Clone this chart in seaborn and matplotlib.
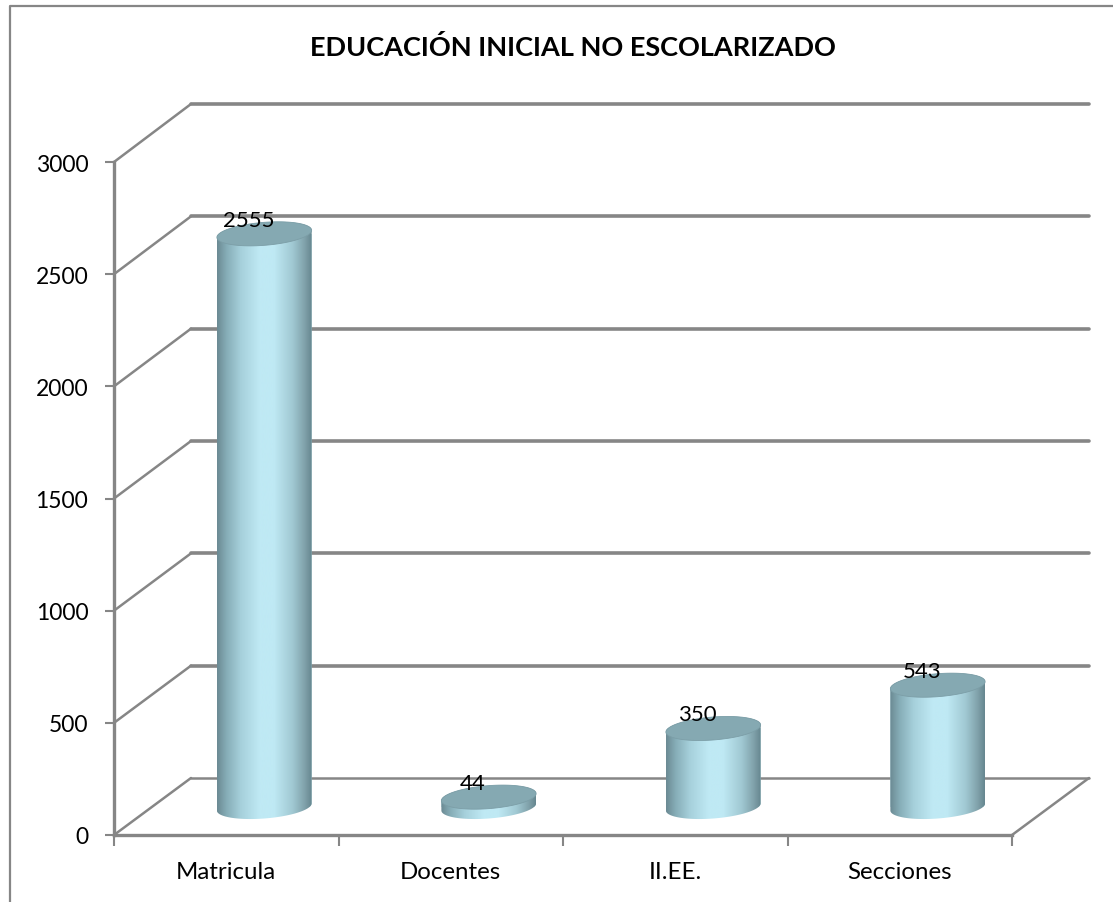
import numpy as np
import pandas as pd
import seaborn as sns
import matplotlib.pyplot as plt
from matplotlib.lines import Line2D
from matplotlib.patches import PathPatch
from matplotlib.path import Path
from matplotlib.colors import LinearSegmentedColormap
from matplotlib.transforms import IdentityTransform

categories = ["Matricula", "Docentes", "II.EE.", "Secciones"]
values = [2555, 44, 350, 543]
y_ticks = [0, 500, 1000, 1500, 2000, 2500, 3000]
title = "EDUCACIÓN INICIAL NO ESCOLARIZADO"

W, H = 1113, 903
GRAY = "#868686"
FONT = "Lato"

sns.set_theme(style="white")
plt.rcParams["font.family"] = [FONT, "DejaVu Sans"]

fig = plt.figure(figsize=(W / 100, H / 100), dpi=100, facecolor="white")


# axes from pixel box, y measured from top of the image
def make_axes(left, right, top, bottom):
    ax = fig.add_axes([left / W, 1 - bottom / H, (right - left) / W, (bottom - top) / H])
    ax.set_xlim(-0.5, 3.5)
    ax.set_ylim(0, 3000)
    ax.patch.set_alpha(0)
    return ax


# front plane has the ticks, back plane the grid, bars stand half way
front = make_axes(114, 1012, 163, 836)
back = make_axes(191, 1089, 105, 779)
PAD = 30  # room under the bars for the round bottom, px
mid = make_axes(152, 1050, 135, 808 + PAD)
mid_floor = -PAD * 3000 / 673

# back wall grid
sns.despine(ax=back, left=True, bottom=True)
back.set_xticks([])
back.set_yticks(y_ticks)
back.tick_params(left=False, labelleft=False)
back.grid(axis="y", color=GRAY, lw=2.6)
back.yaxis.get_gridlines()[0].set_linewidth(1.8)
for line in back.yaxis.get_gridlines():
    line.set_clip_on(False)


# side wall diagonals, from front ticks to back ticks
def diagonal(x, y):
    p0 = front.transData.transform((x, y))
    p1 = back.transData.transform((x, y))
    fig.add_artist(Line2D([p0[0], p1[0]], [p0[1], p1[1]], color=GRAY, lw=1.8,
                          transform=IdentityTransform()))


for t in y_ticks:
    diagonal(-0.5, t)
diagonal(3.5, 0)

# front axis
sns.despine(ax=front, top=True, right=True)
for side in ["left", "bottom"]:
    front.spines[side].set_color(GRAY)
    front.spines[side].set_linewidth(2.4)
front.set_yticks(y_ticks)
front.set_xticks(np.arange(-0.5, 4, 1))
front.set_xticklabels([])
front.set_xticks(range(4), labels=categories, minor=True)
front.tick_params(axis="y", length=6.5, width=1.5, color=GRAY, labelsize=16.5, pad=12, left=True,
                  labelcolor="black")
front.tick_params(axis="x", which="major", length=8, width=1.5, color=GRAY, bottom=True)
front.tick_params(axis="x", which="minor", length=0, labelsize=17.3, pad=19, labelcolor="black")

# bars
df = pd.DataFrame({"categoria": categories, "valor": values})
sns.barplot(data=df, x="categoria", y="valor", ax=mid, color="#a5d0da", width=0.422,
            saturation=1)
mid.set_xlim(-0.5, 3.5)
mid.set_ylim(mid_floor, 3000)
mid.axis("off")

shade = LinearSegmentedColormap.from_list("cil", [
    (0.0, "#6b8a93"), (0.1, "#86adb7"), (0.25, "#a6d0db"), (0.45, "#bfe9f4"),
    (0.6, "#bfe9f4"), (0.8, "#a0c8d2"), (0.93, "#7fa0a9"), (1.0, "#66868f")])
strip = np.linspace(0, 1, 256).reshape(1, -1)

ELL_B = 11.5  # half height of the ellipses, px
SLOPE = 0.075  # ellipses lean up to the right

for bar, v in zip(mid.patches, values):
    x0, w = bar.get_x(), bar.get_width()
    xc = x0 + w / 2
    top = mid.transData.transform((xc, v))
    base = mid.transData.transform((xc, 0))
    a = mid.transData.transform((x0 + w, 0))[0] - base[0]
    t = np.linspace(0, 2 * np.pi, 121)
    ex = a * np.cos(t)
    ey = ELL_B * np.sin(t) + SLOPE * ex

    # body outline: top half of upper ellipse, lower half of bottom ellipse
    t_up = t[:61]
    t_dn = t[60:]
    xs = np.r_[top[0] + a * np.cos(t_up), base[0] + a * np.cos(t_dn)]
    ys = np.r_[top[1] + ELL_B * np.sin(t_up) + SLOPE * a * np.cos(t_up),
               base[1] + ELL_B * np.sin(t_dn) + SLOPE * a * np.cos(t_dn)]
    body = PathPatch(Path(np.c_[xs, ys]), transform=IdentityTransform(), fc="none", ec="none")
    mid.add_patch(body)
    bar.set_clip_path(body)
    bar.set_edgecolor("none")

    img = mid.imshow(strip, cmap=shade, aspect="auto", zorder=3, interpolation="bilinear",
                     extent=(x0, x0 + w, mid_floor, v + 200))
    img.set_clip_path(body)
    mid.add_patch(PathPatch(Path(np.c_[top[0] + ex, top[1] + ey]), transform=IdentityTransform(),
                            fc="#85a9b2", ec="#7c9ea7", lw=0.6, zorder=4))

    # value label sits left of the cap centre
    fig.text((top[0] - 16) / W, (top[1] + 14) / H, str(v), ha="center", va="center",
             fontsize=16, color="black", zorder=6)

mid.set_xlim(-0.5, 3.5)
mid.set_ylim(mid_floor, 3000)

# title and frame
fig.text(573 / W, 1 - 47 / H, title, ha="center", va="center", fontsize=19.5, fontweight="bold",
         color="black")
fig.add_artist(Line2D([10 / W, 10 / W, 1], [0, 1 - 7 / H, 1 - 7 / H], color=GRAY, lw=1.6))

fig.savefig("out.png", dpi=100)
print("Done")
